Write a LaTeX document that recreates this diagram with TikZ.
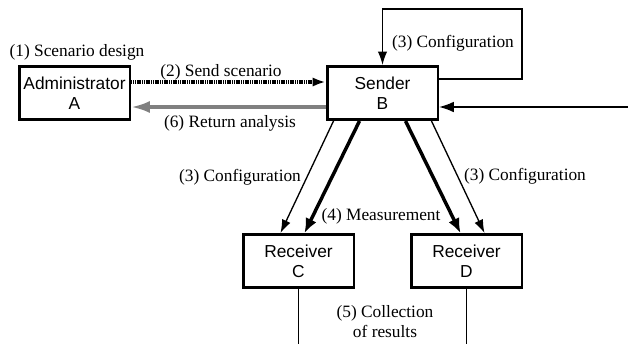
\documentclass[tikz,border=0pt]{standalone}
\usepackage{fontspec}
\setmainfont{Liberation Serif}
\setsansfont{Liberation Sans}
\usetikzlibrary{arrows.meta}
\usetikzlibrary{calc}
\tikzset{box/.style={draw, line width=2pt, minimum width=83pt, minimum height=40pt,
                     inner sep=0pt, align=center, font=\sffamily\fontsize{13}{15}\selectfont},
         lbl/.style={inner sep=1pt, align=center, font=\fontsize{13}{15}\selectfont},
         thinarr/.style={line width=1pt, -{Latex[length=10pt,width=7pt]}},
         thickarr/.style={line width=2.6pt, -{Latex[length=11pt,width=9pt]}},
         grayarr/.style={draw=gray, line width=2.5pt, -{Latex[length=14pt,width=9pt]}},
         hatchline/.style={line width=2.4pt, dash pattern=on 0.9pt off 0.45pt,
                           -{Latex[length=10pt,width=7pt]}}}

\begin{document}
\begin{tikzpicture}[x=0.75pt, y=-0.75pt]
\useasboundingbox (0,0) rectangle (628,344);
% Die Kaesten:
\node[box] (admin)  at (74.5,93)  {Administrator\\A};
\node[box] (sender) at (382.5,93) {Sender\\B};
\node[box] (recC)   at (298.5,261) {Receiver\\C};
\node[box] (recD)   at (466.5,261) {Receiver\\D};
\coordinate (loop) at (522,9);
\coordinate (ext)  at (628,107);
\coordinate (bot)  at (0,344);
% Administrator <-> Sender:
\draw[hatchline] ($(admin.east)+(0,-11)$) -- ($(sender.west)+(0,-11)$);
\draw[grayarr] ($(sender.west)+(0,14)$) -- ($(admin.east)+(0,14)$);
\node[lbl] (l1) at (77,52)   {(1) Scenario design};
\node[lbl] (l2) at (221,72)  {(2) Send scenario};
\node[lbl] (l6) at (230,123) {(6) Return analysis};
% Konfiguration des Senders:
\draw[line width=1pt, -{Latex[length=10pt,width=7pt]}]
  ($(sender.east)+(0,-14)$) -| (loop) -| (sender.north);
\node[lbl] (l3a) at (453,43) {(3) Configuration};
\draw[line width=1pt, -{Latex[length=11pt,width=8pt]}] (ext) -- ($(sender.east)+(0,14)$);
% Sender -> Empfaenger:
\foreach \s/\e/\r/\st in {-49/-18/recC/thinarr, -23/6/recC/thickarr,
                          23/-6/recD/thickarr, 49/18/recD/thinarr}
  \draw[\st] ($(sender.south)+(\s,0)$) -- ($(\r.north)+(\e,0)$);
\node[lbl] (l3b) at (240,177) {(3) Configuration};
\node[lbl] (l3c) at (525,176) {(3) Configuration};
\node[lbl] (l4)  at (381,216) {(4) Measurement};
% Ergebnisse:
\draw[line width=1pt] (recC.south) -- (recC.south |- bot);
\draw[line width=1pt] (recD.south) -- (recD.south |- bot);
\node[lbl] (l5) at (385,322) {(5) Collection\\of results};
\end{tikzpicture}
\end{document}
